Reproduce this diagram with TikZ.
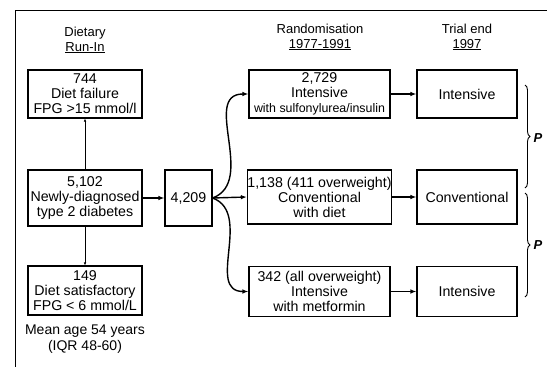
\documentclass[tikz,border=0pt]{standalone}
\usepackage{fontspec}
\setmainfont{Liberation Sans}
\usetikzlibrary{arrows.meta,decorations.pathreplacing}

\begin{document}
\begin{tikzpicture}[x=1pt,y=-1pt,
    box/.style={draw,line width=1.1pt,inner sep=0pt,align=center,
      font=\fontsize{14.2}{15}\selectfont},
    head/.style={align=center,font=\fontsize{13}{15}\selectfont},
    arr/.style={line width=1.4pt,-{Latex[length=6pt,width=4.5pt]}},
    thin/.style={line width=0.7pt,-{Latex[length=3pt,width=2.5pt]}},
    pbrace/.style={decorate,decoration={brace,amplitude=5pt},line width=0.9pt}]
    \useasboundingbox (0,0) rectangle (547,367);
    \draw[line width=0.9pt] (15,367) -- (15,10) -- (547,10);

            \node[head] (hdiet) at (85,40) {Dietary\\\underline{Run-In}};
            \node[head] (hrand) at (320,37) {Randomisation\\\underline{1977-1991}};
            \node[head] (hend) at (467,37) {Trial end\\\underline{1997}};

            \node[box,minimum width=114pt,minimum height=48pt] (fail) at (85,94) {744\\Diet failure\\FPG >15 mmol/l};
            \node[box,minimum width=114pt,minimum height=56pt] (newdx) at (85,198) {5,102\\Newly-diagnosed\\type 2 diabetes};
            \node[box,minimum width=114pt,minimum height=49pt] (satis) at (85,290.5) {149\\Diet satisfactory\\FPG < 6 mmol/L};
            \node[head,font=\fontsize{14}{16}\selectfont] (age) at (85,339) {Mean age 54 years\\(IQR 48-60)};

            \node[box,minimum width=47pt,minimum height=56pt] (pool) at (188.5,198) {4,209};

            \node[box,minimum width=141pt,minimum height=48pt] (intsu) at (319.5,94) {2,729\\Intensive\\{\fontsize{12.4}{14}\selectfont with sulfonylurea/insulin}};
            \node[box,minimum width=141pt,minimum height=54pt] (conv) at (319.5,197) {1,138 (411 overweight)\\Conventional\\with diet};
            \node[box,minimum width=141pt,minimum height=50pt] (intmet) at (319.5,291.5) {342 (all overweight)\\Intensive\\with metformin};

            \node[box,minimum width=100pt,minimum height=48pt] (end1) at (467,94) {Intensive};
            \node[box,minimum width=100pt,minimum height=54pt] (end2) at (467,197) {Conventional};
            \node[box,minimum width=100pt,minimum height=50pt] (end3) at (467,291.5) {Intensive};

            \coordinate (b1a) at (525,85); \coordinate (b1b) at (525,188);
            \coordinate (b2a) at (525,193); \coordinate (b2b) at (525,297);
            \node[font=\itshape\bfseries\fontsize{13}{14}\selectfont] (p1) at (538,138) {P};
            \node[font=\itshape\bfseries\fontsize{13}{14}\selectfont] (p2) at (538,245) {P};

            \draw[thin] (newdx) to (fail); \draw[thin] (newdx) to (satis);
            \draw[arr] (newdx) to (pool);
            \draw[arr] (pool.east) to[out=20,in=180,looseness=1.1] (intsu.west);
            \draw[arr] (pool.east) to (conv.west);
            \draw[arr] (pool.east) to[out=-20,in=180,looseness=1.1] (intmet.west);
            \draw[arr] (intsu) to (end1); \draw[arr] (conv) to (end2); \draw[arr] (intmet) to (end3);
            \draw[pbrace] (b1a) to (b1b); \draw[pbrace] (b2a) to (b2b);
        \end{tikzpicture}
\end{document}
